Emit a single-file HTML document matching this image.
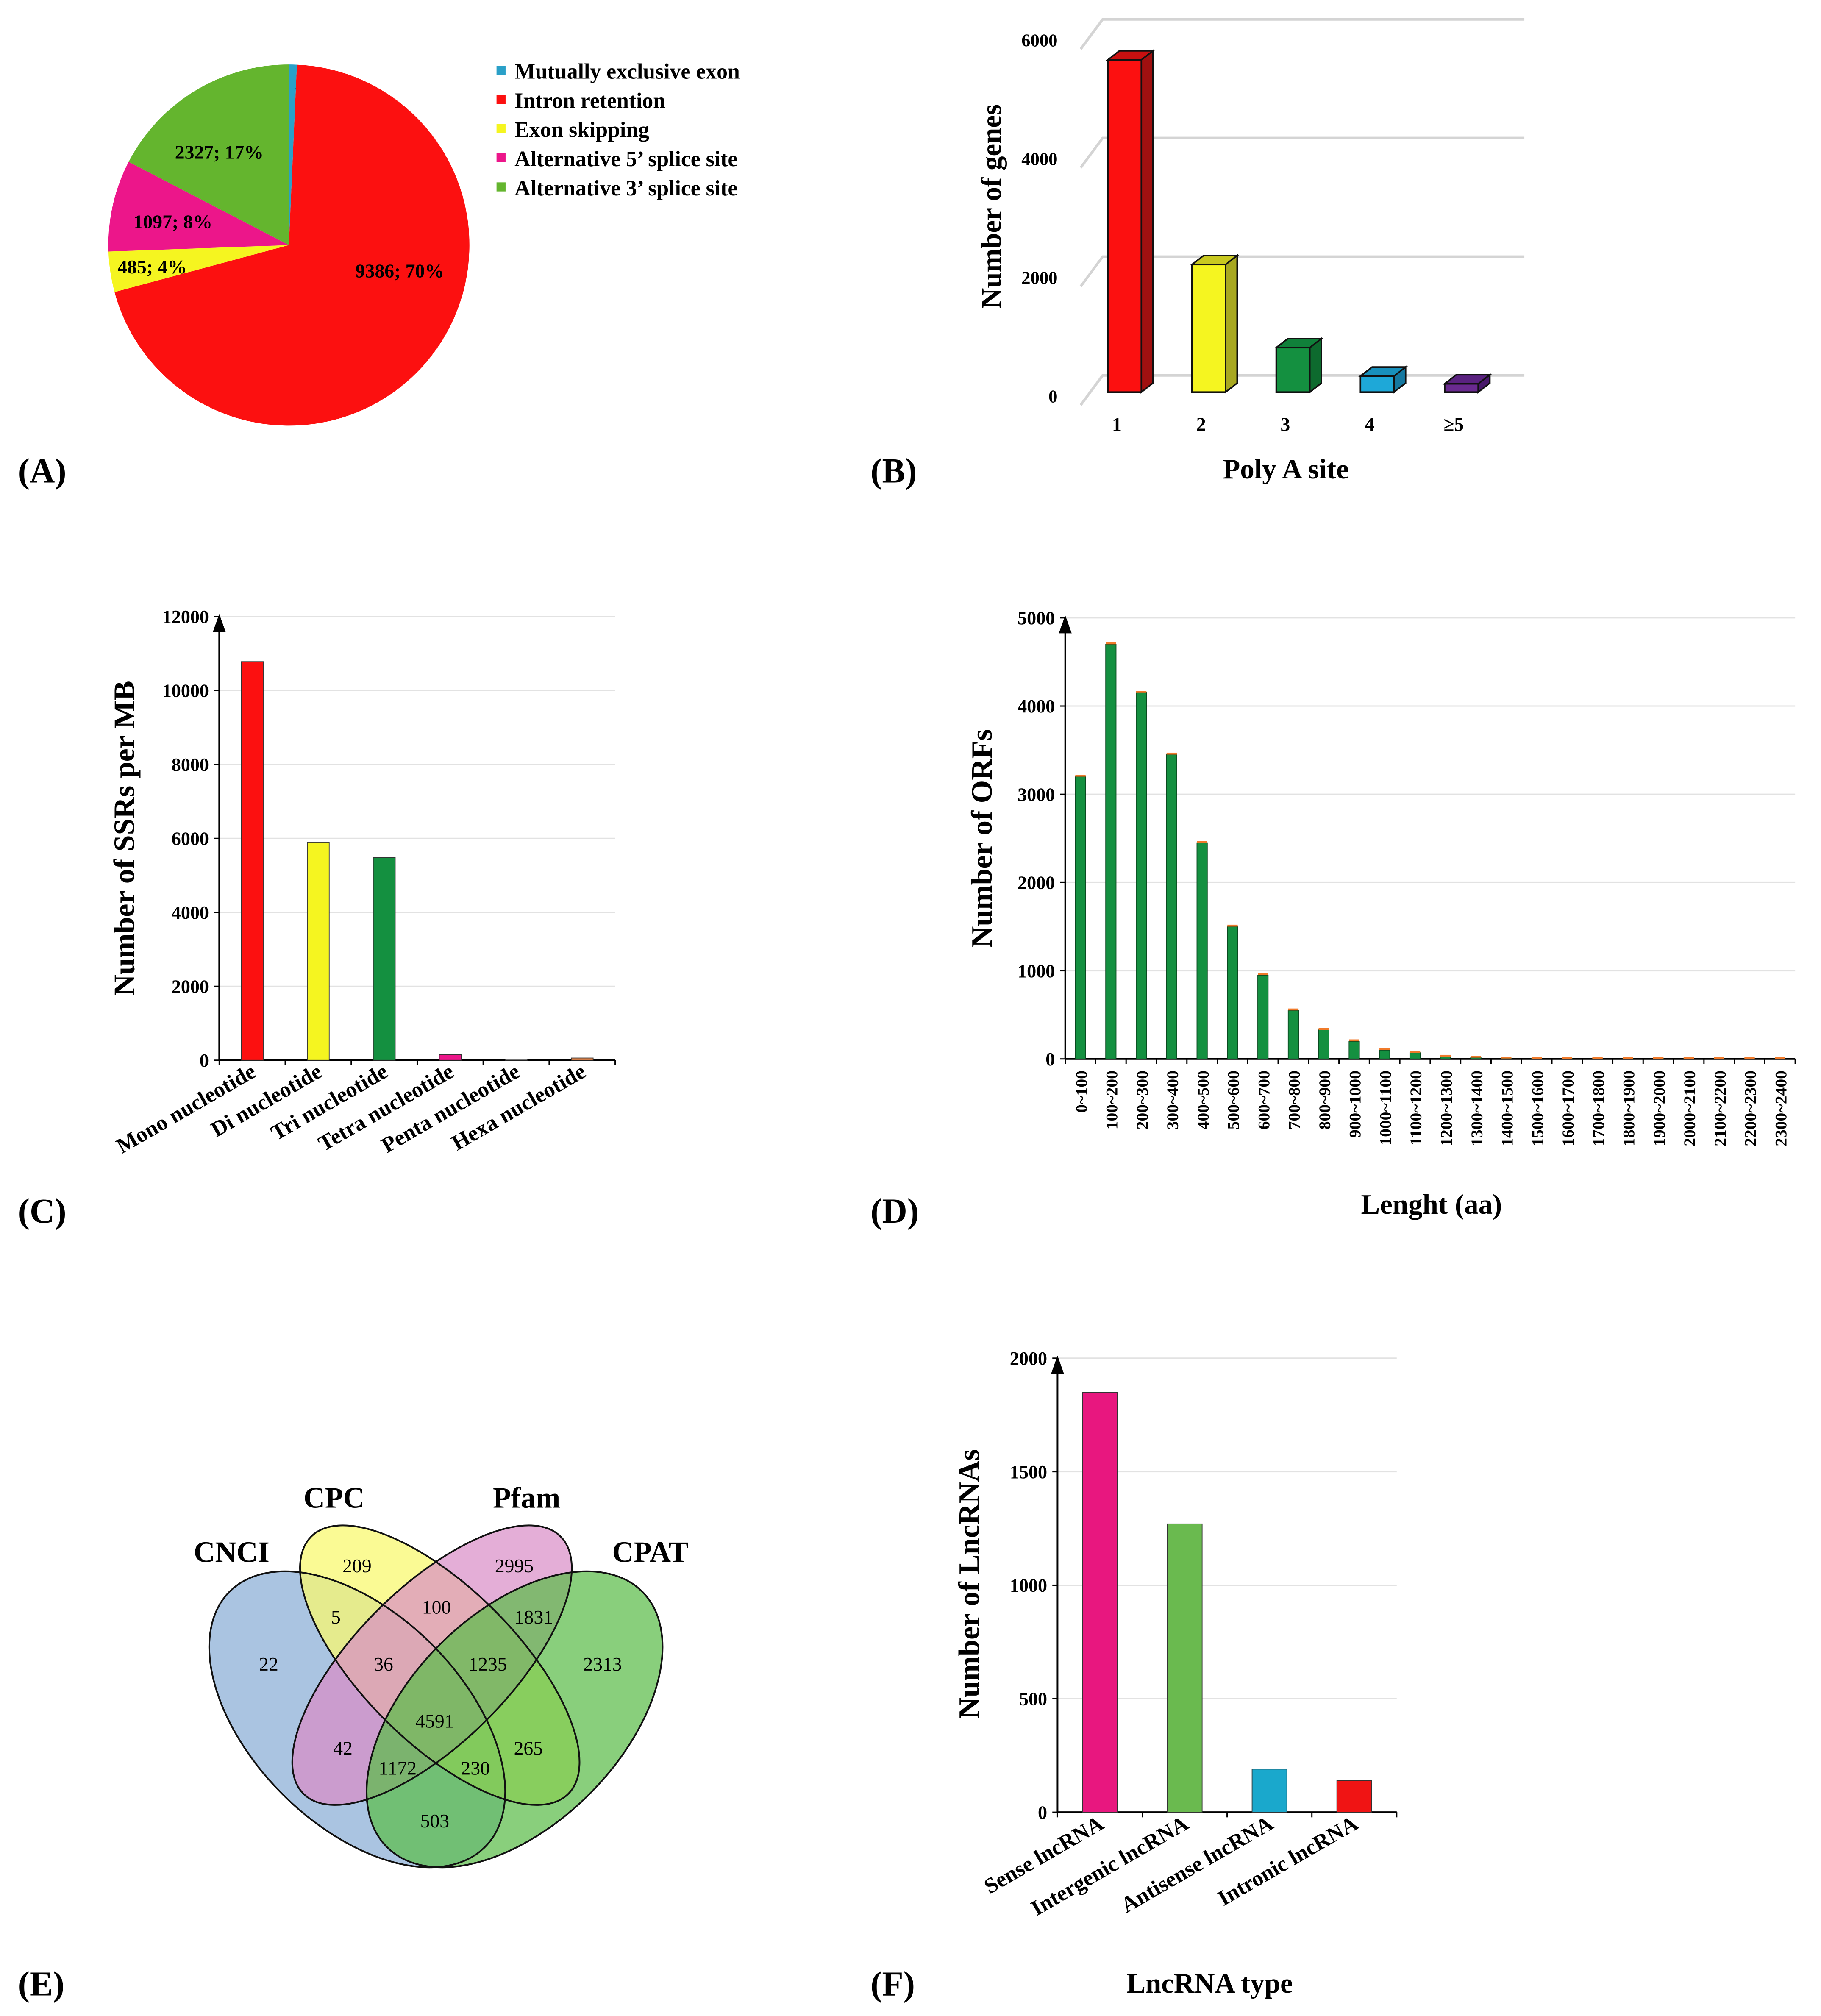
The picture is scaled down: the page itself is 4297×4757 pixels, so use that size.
<!DOCTYPE html>
<html><head><meta charset="utf-8"><style>
html,body{margin:0;padding:0;background:#fff;}
svg{display:block;font-family:"Liberation Serif",serif;}
</style></head><body>
<svg id="fig" width="4297" height="4757" viewBox="0 0 1412 1563" preserveAspectRatio="none" xmlns="http://www.w3.org/2000/svg">
<g id="pA"></g>
<g id="pB"></g>
<g id="pC"></g>
<g id="pD"></g>
<g id="pE"></g>
<g id="pF"></g>
<text x="14" y="374" font-size="27" font-weight="bold">(A)</text>
<text x="675" y="374" font-size="27" font-weight="bold">(B)</text>
<text x="14" y="948" font-size="27" font-weight="bold">(C)</text>
<text x="675" y="948" font-size="27" font-weight="bold">(D)</text>
<text x="14" y="1547" font-size="27" font-weight="bold">(E)</text>
<text x="675" y="1547" font-size="27" font-weight="bold">(F)</text>
</svg>
<script>
const NS="http://www.w3.org/2000/svg";
function mk(parent,tag,attrs,txt){const e=document.createElementNS(NS,tag);for(const k in attrs)e.setAttribute(k,attrs[k]);if(txt!==undefined)e.textContent=txt;parent.appendChild(e);return e;}

// ---------- Panel A data ----------
const pieLabels=["Mutually exclusive exon","Intron retention","Exon skipping","Alternative 5\u2019 splice site","Alternative 3\u2019 splice site"];
const pieValues=[95,9386,485,1097,2327];
const piePct=["1%","70%","4%","8%","17%"];
const pieColors=["#2aa0c8","#fc1010","#f5f520","#ec168a","#64b52e"];

// ---------- Panel B data ----------
const polyCats=["1","2","3","4","\u22655"];
const polyVals=[5600,2150,750,270,140];
const polyTicks=[0,2000,4000,6000];

// ---------- Panel C data ----------
const ssrCats=["Mono nucleotide","Di nucleotide","Tri nucleotide","Tetra nucleotide","Penta nucleotide","Hexa nucleotide"];
const ssrVals=[10780,5900,5480,150,30,60];
const ssrTicks=[0,2000,4000,6000,8000,10000,12000];

// ---------- Panel D data ----------
const orfCats=["0~100","100~200","200~300","300~400","400~500","500~600","600~700","700~800","800~900","900~1000","1000~1100","1100~1200","1200~1300","1300~1400","1400~1500","1500~1600","1600~1700","1700~1800","1800~1900","1900~2000","2000~2100","2100~2200","2200~2300","2300~2400"];
const orfVals=[3200,4700,4150,3450,2450,1500,950,550,330,200,100,70,25,15,5,3,3,2,2,2,1,1,1,1];
const orfTicks=[0,1000,2000,3000,4000,5000];

// ---------- Panel E data ----------
const vennSets=["CNCI","CPC","Pfam","CPAT"];
const vennCounts=["22","209","5","100","2995","1831","36","1235","2313","4591","42","265","1172","230","503"];

// ---------- Panel F data ----------
const lncCats=["Sense lncRNA","Intergenic lncRNA","Antisense lncRNA","Intronic lncRNA"];
const lncVals=[1850,1270,190,140];
const lncTicks=[0,500,1000,1500,2000];

// ===== Panel A =====
(function(){
 const g=document.getElementById('pA');
 const cx=224,cy=190,r=140;
 const total=pieValues.reduce((a,b)=>a+b,0);
 let a0=0;
 const lblPos=[[227,72],[310,210],[118,207],[134,172],[170,118]];
 pieValues.forEach((v,i)=>{
  const a1=a0+v/total*2*Math.PI;
  const p0=[cx+r*Math.sin(a0),cy-r*Math.cos(a0)],p1=[cx+r*Math.sin(a1),cy-r*Math.cos(a1)];
  const large=(a1-a0)>Math.PI?1:0;
  const p=mk(g,'path',{d:`M${cx},${cy}L${p0[0]},${p0[1]}A${r},${r} 0 ${large} 1 ${p1[0]},${p1[1]}Z`,fill:pieColors[i]});
  
  
  const t=mk(g,'text',{x:lblPos[i][0],y:lblPos[i][1]+5,'font-size':15,'font-weight':'bold','text-anchor':'middle'},pieValues[i]+"; "+piePct[i]);
  
  
  const ly=56+i*22.6;
  const sq=mk(g,'rect',{x:385,y:ly-5,width:7,height:7,fill:pieColors[i]});
  
  
  const lt=mk(g,'text',{x:399,y:ly+5,'font-size':17,'font-weight':'bold'},pieLabels[i]);
  
  
  a0=a1;
 });
})();

// ===== Panel B =====
(function(){
 const g=document.getElementById('pB');
 const y0=304,k=0.046;const Y=v=>y0-v*k;
 polyTicks.forEach(t=>{
  const y=Y(t);
  const l=mk(g,'polyline',{points:`838,${y+10} 855,${y-13} 1182,${y-13}`,fill:'none',stroke:'#d4d4d4','stroke-width':2});
  
  
  const tx=mk(g,'text',{x:820,y:y+8,'font-size':14,'font-weight':'bold','text-anchor':'end'},t);
  
  
 });
 const fc=["#fc1010","#f5f520","#149040","#1ea8d8","#6a2a90"],sc=["#a01010","#a8a820","#0d6a2e","#1578a0","#48186a"],tc=["#c81010","#c8c820","#10803a","#1890bc","#5a2280"];
 const w=26,dx=9,dy=7;
 polyVals.forEach((v,i)=>{
  const c=872+i*65.3,x=c-w/2,yt=Y(v);
  const bar=mk(g,'g',{stroke:'#111','stroke-width':1.2});
  
  
  mk(bar,'polygon',{points:`${x+w},${yt} ${x+w+dx},${yt-dy} ${x+w+dx},${y0-dy} ${x+w},${y0}`,fill:sc[i]});
  mk(bar,'polygon',{points:`${x},${yt} ${x+dx},${yt-dy} ${x+w+dx},${yt-dy} ${x+w},${yt}`,fill:tc[i]});
  mk(bar,'rect',{x:x,y:yt,width:w,height:y0-yt,fill:fc[i]});
  const t=mk(g,'text',{x:c-6,y:334,'font-size':15,'font-weight':'bold','text-anchor':'middle'},polyCats[i]);
  
  
 });
 const yt=mk(g,'text',{transform:'translate(776,160) rotate(-90)','font-size':22,'font-weight':'bold','text-anchor':'middle'},'Number of genes');
 
 
 const xt=mk(g,'text',{x:997,y:371,'font-size':22,'font-weight':'bold','text-anchor':'middle'},'Poly A site');
 
 
})();

// generic 2D bar chart
function barChart(g,o){
 const Y=v=>o.y0-(v/o.max)*(o.y0-o.yTop);
 o.ticks.forEach(t=>{
  const y=Y(t);
  if(t>0){const l=mk(g,'line',{x1:o.x0,x2:o.x1,y1:y,y2:y,stroke:'#e2e2e2','stroke-width':1});
  
  }
  const tx=mk(g,'text',{x:o.x0-8,y:y+5,'font-size':o.tickFs,'font-weight':'bold','text-anchor':'end'},t);
  
  
  mk(g,'line',{x1:o.x0-4,x2:o.x0,y1:y,y2:y,stroke:'#000','stroke-width':1});
 });
 const ax=mk(g,'line',{x1:o.x0,x2:o.x0,y1:o.y0,y2:o.yTop+6,stroke:'#000','stroke-width':1.3});
 
 
 const ar=mk(g,'polygon',{points:`${o.x0-5},${o.yTop+12} ${o.x0+5},${o.yTop+12} ${o.x0},${o.yTop-2}`,fill:'#000'});
 
 
 const bx=mk(g,'line',{x1:o.x0,x2:o.x1,y1:o.y0,y2:o.y0,stroke:'#000','stroke-width':1.3});
 
 
 const n=o.vals.length,step=(o.x1-o.x0)/n;
 for(let i=0;i<=n;i++){mk(g,'line',{x1:o.x0+i*step,x2:o.x0+i*step,y1:o.y0,y2:o.y0+4,stroke:'#000','stroke-width':1});}
 o.vals.forEach((v,i)=>{
  const c=o.x0+(i+0.5)*step,yt=Y(v);
  const r=mk(g,'rect',{x:c-o.bw/2,y:yt,width:o.bw,height:o.y0-yt,fill:o.colors[i%o.colors.length],stroke:o.stroke||'#333','stroke-width':0.6});
  
  
  if(o.cap){mk(g,'rect',{x:c-o.bw/2,y:yt-1.5,width:o.bw,height:1.5,fill:'#f07a2a'});}
  let t;
  if(o.rot===-90){
   t=mk(g,'text',{transform:`translate(${c+5},${o.y0+9}) rotate(-90)`,'font-size':o.lblFs,'font-weight':'bold','text-anchor':'end'},o.cats[i]);
  }else{
   t=mk(g,'text',{transform:`translate(${c+4},${o.y0+12}) rotate(${o.rot})`,'font-size':o.lblFs,'font-weight':'bold','text-anchor':'end'},o.cats[i]);
  }
  
  
 });
 const ytl=mk(g,'text',{transform:`translate(${o.ytx},${o.yty}) rotate(-90)`,'font-size':o.titleFs,'font-weight':'bold','text-anchor':'middle'},o.ytitle);
 
 
 if(o.xtitle){const xt=mk(g,'text',{x:o.xtx,y:o.xty,'font-size':22,'font-weight':'bold','text-anchor':'middle'},o.xtitle);
 
 }
}

barChart(document.getElementById('pC'),{x0:170,x1:477,y0:822,yTop:478,max:12000,ticks:ssrTicks,vals:ssrVals,cats:ssrCats,bw:17,
 colors:["#fc1010","#f5f520","#149040","#ec168a","#888888","#f08a4a"],rot:-30,lblFs:17,tickFs:14.5,titleFs:23,ytitle:'Number of SSRs per MB',ytx:104,yty:650});

barChart(document.getElementById('pD'),{x0:826,x1:1392,y0:821,yTop:479,max:5000,ticks:orfTicks,vals:orfVals,cats:orfCats,bw:8,cap:true,stroke:'#0a4a20',
 colors:["#149040"],rot:-90,lblFs:13,tickFs:14.5,titleFs:23,ytitle:'Number of ORFs',ytx:769,yty:650,xtitle:'Lenght (aa)',xtx:1110,xty:941});

barChart(document.getElementById('pF'),{x0:820,x1:1083,y0:1405,yTop:1053,max:2000,ticks:lncTicks,vals:lncVals,cats:lncCats,bw:27,
 colors:["#e8177f","#6aba4f","#1aa8cc","#f01414"],rot:-30,lblFs:17,tickFs:14.5,titleFs:23,ytitle:'Number of LncRNAs',ytx:759,yty:1228,xtitle:'LncRNA type',xtx:938,xty:1545});

// ===== Panel E =====
(function(){
 const g=document.getElementById('pE');
 const sx=0.274,sy=0.221,tx=131.6,ty=1118.9;
 const P=(x,y)=>[tx+x*sx,ty+y*sy];
 // cx, cy, angle, rx, ry, colour, opacity (preview coordinates)
 const ells=[[277,1333,45,140,82,"#aac4e1",1],[341,1291,45,141,60,"#f8f870",0.75],[335,1291,-45,141,60,"#d88cc6",0.7],[399,1333,-45,140,82,"#5cbd4a",0.72]];
 ells.forEach((e,i)=>{
  const el=mk(g,'ellipse',{cx:0,cy:0,rx:e[3],ry:e[4],transform:`translate(${e[0]},${e[1]}) rotate(${e[2]})`,fill:e[5],'fill-opacity':e[6]});
  
  
 });
 ells.forEach(e=>{mk(g,'ellipse',{cx:0,cy:0,rx:e[3],ry:e[4],transform:`translate(${e[0]},${e[1]}) rotate(${e[2]})`,fill:'none',stroke:'#111','stroke-width':1.3});});
 const cpos=[[280,775],[530,430],[470,610],[755,575],[975,430],[1030,610],[605,775],[900,775],[1225,775],[750,975],[490,1070],[1015,1070],[645,1140],[865,1140],[750,1325]];
 vennCounts.forEach((c,i)=>{
  const p=P(cpos[i][0],cpos[i][1]);
  const t=mk(g,'text',{x:p[0],y:p[1]+5,'font-size':15,'text-anchor':'middle'},c);
  
  
 });
 const lpos=[[175,380],[465,190],[1010,190],[1360,380]];
 vennSets.forEach((s,i)=>{
  const p=P(lpos[i][0],lpos[i][1]);
  const t=mk(g,'text',{x:p[0],y:p[1]+8,'font-size':23,'font-weight':'bold','text-anchor':'middle'},s);
  
  
 });
})();
</script>
</body></html>
